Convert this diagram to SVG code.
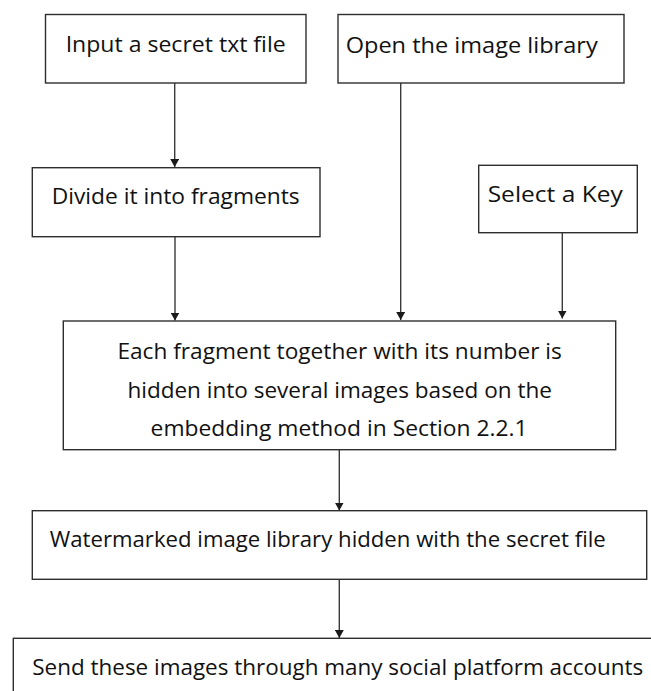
<svg xmlns="http://www.w3.org/2000/svg" width="651" height="691" viewBox="0 0 651 691">
  <style>
    .box { fill: #ffffff; stroke: #2e2e2e; stroke-width: 1.4; }
    .lbl { font-family: "Open Sans", "Liberation Sans", sans-serif; font-size: 22px; fill: #111111; }
    .conn { stroke: #3a3a3a; stroke-width: 1.4; fill: none; }
  </style>
  <defs>
    <marker id="arrow" markerUnits="userSpaceOnUse" markerWidth="10" markerHeight="9" refX="8" refY="4.5" orient="auto">
      <path d="M0,0 L8,4.5 L0,9 z" fill="#1a1a1a"/>
    </marker>
  </defs>
  <rect width="651" height="691" fill="#ffffff"/>

  <g id="connectors">
    <line class="conn" x1="174.7" y1="83" x2="174.7" y2="167" marker-end="url(#arrow)"/>
    <line class="conn" x1="175" y1="236.7" x2="175" y2="320.5" marker-end="url(#arrow)"/>
    <line class="conn" x1="400.7" y1="83" x2="400.7" y2="320" marker-end="url(#arrow)"/>
    <line class="conn" x1="562.3" y1="232.7" x2="562.3" y2="318.5" marker-end="url(#arrow)"/>
    <line class="conn" x1="339.3" y1="449.7" x2="339.3" y2="510.5" marker-end="url(#arrow)"/>
    <line class="conn" x1="339.3" y1="579.3" x2="339.3" y2="638" marker-end="url(#arrow)"/>
  </g>

  <g id="input-file">
    <rect class="box" x="45.5" y="14.5" width="260.5" height="68.5"/>
    <text class="lbl" x="65.7" y="52" textLength="220" lengthAdjust="spacingAndGlyphs">Input a secret txt file</text>
  </g>

  <g id="open-library">
    <rect class="box" x="338" y="14.5" width="286" height="68.5"/>
    <text class="lbl" x="345.7" y="52.5" textLength="252" lengthAdjust="spacingAndGlyphs">Open the image library</text>
  </g>

  <g id="divide">
    <rect class="box" x="32.3" y="167.7" width="287.7" height="69"/>
    <text class="lbl" x="51.7" y="204" textLength="248" lengthAdjust="spacingAndGlyphs">Divide it into fragments</text>
  </g>

  <g id="select-key">
    <rect class="box" x="478.7" y="165.3" width="158.6" height="67.4"/>
    <text class="lbl" x="487.7" y="201.7" textLength="135" lengthAdjust="spacingAndGlyphs">Select a Key</text>
  </g>

  <g id="embed">
    <rect class="box" x="63.3" y="321" width="552.4" height="128.7"/>
    <text class="lbl" x="117.4" y="359.3" textLength="444.5" lengthAdjust="spacingAndGlyphs">Each fragment together with its number is</text>
    <text class="lbl" x="127.4" y="397.5" textLength="424.5" lengthAdjust="spacingAndGlyphs">hidden into several images based on the</text>
    <text class="lbl" x="150.6" y="435.5" textLength="377" lengthAdjust="spacingAndGlyphs">embedding method in Section 2.2.1</text>
  </g>

  <g id="watermarked">
    <rect class="box" x="32.3" y="510.7" width="614.4" height="68.6"/>
    <text class="lbl" x="49.8" y="546.7" textLength="556" lengthAdjust="spacingAndGlyphs">Watermarked image library hidden with the secret file</text>
  </g>

  <g id="send">
    <rect class="box" x="13.3" y="638.3" width="660" height="80"/>
    <text class="lbl" x="32.3" y="675" textLength="611" lengthAdjust="spacingAndGlyphs">Send these images through many social platform accounts</text>
  </g>
</svg>
